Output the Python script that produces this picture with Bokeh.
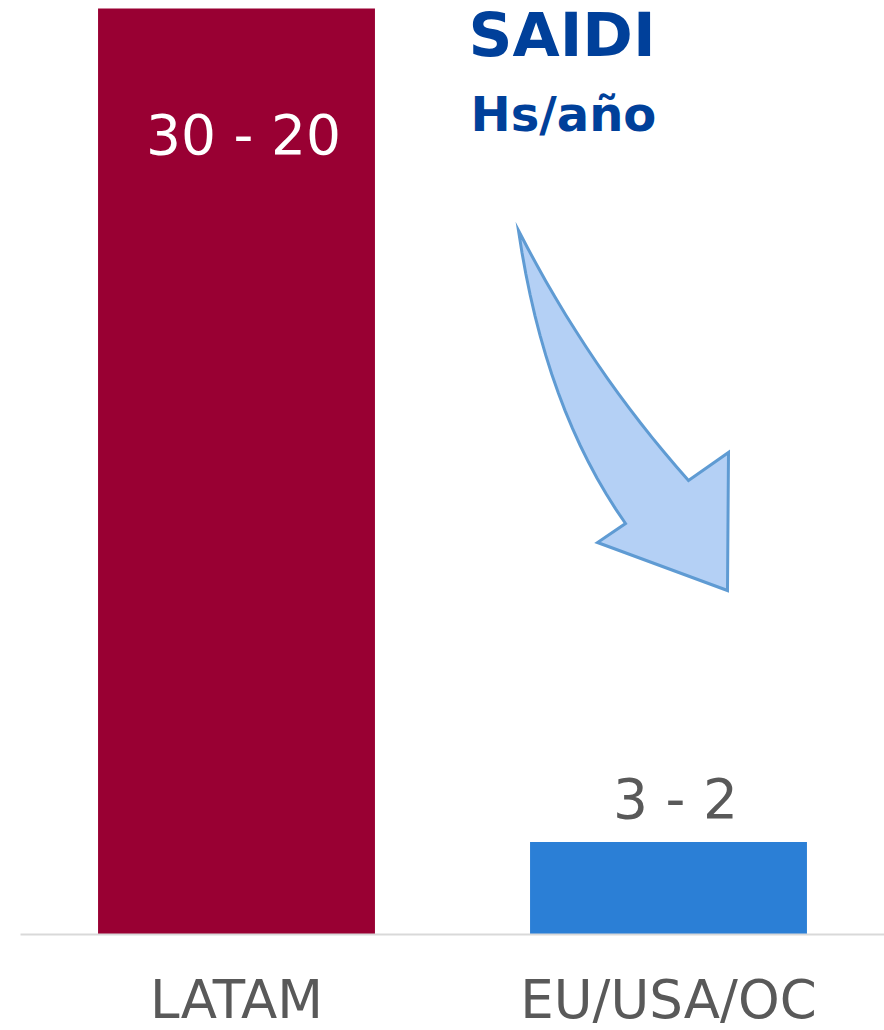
from bokeh.plotting import figure
from bokeh.models import Range1d, FixedTicker, ColumnDataSource, LabelSet
from bokeh.core.properties import value
from bokeh.embed import file_html
from bokeh.resources import INLINE

# SAIDI (hours per year) by region
regions = ["LATAM", "EU/USA/OC"]
saidi_high = [30, 3]
saidi_range_labels = ["30 - 20", "3 - 2"]
bar_colors = ["#990033", "#2B7FD6"]
label_colors = ["#FFFFFF", "#595959"]
label_offsets = [-145, 24]

FONT = "DejaVu Sans"

x_pos = [0.5 + i for i in range(len(regions))]

p = figure(frame_width=864, frame_height=934, min_border_left=20, min_border_right=0,
           min_border_top=0, min_border_bottom=0,
           x_range=Range1d(0, 2), y_range=Range1d(0, 30.26),
           output_backend="svg", toolbar_location=None, tools="")
p.outline_line_color = None
p.grid.visible = False
p.yaxis.visible = False
p.background_fill_color = "white"
p.border_fill_color = "white"

src = ColumnDataSource(dict(x=x_pos, top=saidi_high, color=bar_colors,
                            label=saidi_range_labels, lcolor=label_colors,
                            off=label_offsets))
p.vbar(x="x", top="top", width=0.641, bottom=0, fill_color="color",
       line_color=None, source=src)

labels = LabelSet(x="x", y="top", text="label", source=src, text_color="lcolor",
                  y_offset="off", x_offset=7, text_align="center",
                  text_baseline="alphabetic", text_font=value(FONT),
                  text_font_size="55px")
p.add_layout(labels)

# category axis along the baseline
ax = p.xaxis[0]
ax.ticker = FixedTicker(ticks=x_pos)
ax.major_label_overrides = {x: r for x, r in zip(x_pos, regions)}
ax.major_tick_line_color = None
ax.minor_tick_line_color = None
ax.axis_line_color = "#D9D9D9"
ax.axis_line_width = 2
ax.major_label_text_font = FONT
ax.major_label_text_font_size = "53px"
ax.major_label_text_color = "#595959"
ax.major_label_standoff = 28


# helpers: canvas pixels -> data coordinates
def dx(px):
    return (px - 20) / 432


def dy(py):
    return (934 - py) * 30 / 926


def qbez(p0, c, p2, n=16):
    pts = []
    for i in range(n + 1):
        t = i / n
        a, b, d = (1 - t) ** 2, 2 * t * (1 - t), t ** 2
        pts.append((a * p0[0] + b * c[0] + d * p2[0], a * p0[1] + b * c[1] + d * p2[1]))
    return pts


# title block
title_src = ColumnDataSource(dict(
    x=[dx(468), dx(470)], y=[dy(55), dy(130)],
    text=["SAIDI", "Hs/año"], size=["61px", "48px"]))
p.add_layout(LabelSet(x="x", y="y", text="text", source=title_src,
                      text_font=value(FONT), text_font_style="bold",
                      text_font_size="size", text_color="#00409A",
                      text_baseline="alphabetic"))

# curved arrow pointing down toward the lower bar
upper_edge = qbez((518, 230), (589, 369), (688, 480))
head = [(728, 452), (727, 590), (597, 542)]
lower_edge = qbez((625, 523), (544, 408), (518, 230))[:-1]
arrow_outline = upper_edge + head + lower_edge
p.patch([dx(a) for a, _ in arrow_outline], [dy(b) for _, b in arrow_outline],
        fill_color="#B4D0F5", line_color="#5F9BD3", line_width=3,
        line_join="miter")

open("out.html", "w").write(file_html(p, INLINE))
